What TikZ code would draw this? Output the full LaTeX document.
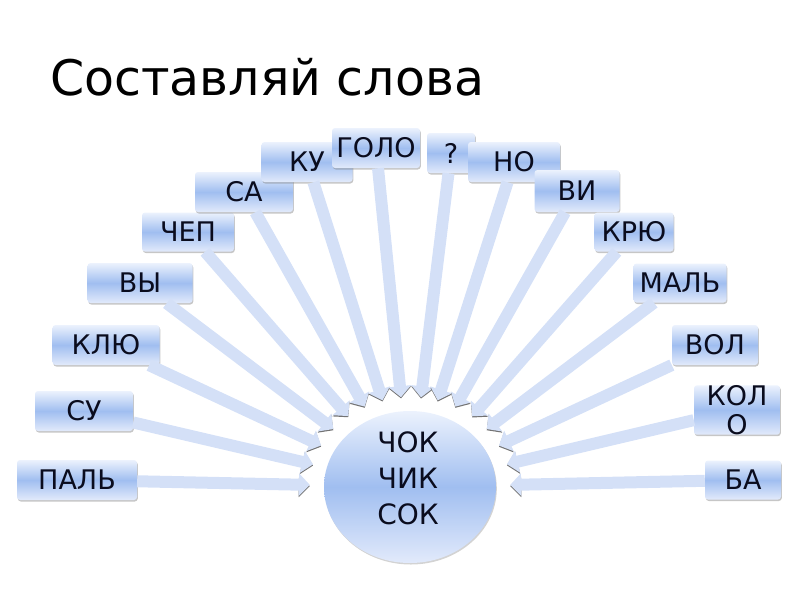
\documentclass[tikz,border=0pt]{standalone}
\usepackage{fontspec}
\setmainfont{DejaVu Sans}
\usetikzlibrary{arrows.meta, shadows, shapes.geometric}

\definecolor{boxtop}{RGB}{236,242,253}
\definecolor{boxmid}{RGB}{160,190,240}
\definecolor{boxbot}{RGB}{226,234,251}
\definecolor{arrowfill}{RGB}{212,224,247}
\definecolor{wordtext}{RGB}{10,12,30}

\tikzset{
  word/.style={rounded corners=3pt, top color=boxtop, bottom color=boxbot,
    middle color=boxmid, minimum height=40pt, inner sep=0pt,
    font=\fontsize{27}{29}\selectfont, text=wordtext,
    drop shadow={shadow xshift=0.8pt, shadow yshift=-1.5pt, opacity=0.45}},
  hub/.style={ellipse, top color=boxtop, bottom color=boxbot, middle color=boxmid,
    minimum width=172pt, minimum height=152pt, inner sep=0pt,
    drop shadow={shadow xshift=0.8pt, shadow yshift=-1.5pt, opacity=0.35}},
  feed/.style={line width=12pt, draw=arrowfill, -{Triangle[width=22pt,length=11pt]},
    shorten >=14pt, preaction={draw=black!55, transform canvas={yshift=-1.2pt}}},
}

\begin{document}
\begin{tikzpicture}[x=1pt, y=-1pt]
  \useasboundingbox (0,0) rectangle (800,600);

  \node[anchor=base west, font=\fontsize{49}{56}\selectfont, inner sep=0pt] (title) at (50,95) {Составляй слова};

  % central ellipse
  \node[hub] (hub) at (410,487) {};
  \node[align=center, font=\fontsize{28}{36}\selectfont, text=wordtext] (hubtext) at (408,478) {ЧОК\\ЧИК\\СОК};

  % word parts
  \node[word, minimum width=120pt] (pal) at (77,480) {ПАЛЬ};
  \node[word, minimum width=98pt] (su) at (84,411) {СУ};
  \node[word, minimum width=107pt] (klyu) at (106,345) {КЛЮ};
  \node[word, minimum width=105pt] (vy) at (140,283) {ВЫ};
  \node[word, minimum width=92pt, minimum height=39pt] (chep) at (188,232) {ЧЕП};
  \node[word, minimum width=98pt] (sa) at (244,192) {СА};
  \node[word, minimum width=91pt] (ku) at (307,162) {КУ};
  \node[word, minimum width=88pt] (golo) at (376,148) {ГОЛО};
  \node[word, minimum width=48pt] (q) at (451,153) {?};
  \node[word, minimum width=92pt] (no) at (514,162) {НО};
  \node[word, minimum width=85pt, minimum height=42pt] (vi) at (577,191) {ВИ};
  \node[word, minimum width=79pt, minimum height=39pt] (kryu) at (634,232) {КРЮ};
  \node[word, minimum width=93pt, minimum height=39pt] (mal) at (680,283) {МАЛЬ};
  \node[word, minimum width=86pt] (vol) at (715,345) {ВОЛ};
  \node[word, minimum width=86pt, minimum height=44pt, align=center] (kolo) at (737,410) {КОЛ\\О};
  \node[word, minimum width=76pt, minimum height=39pt] (ba) at (743,480) {БА};

  % arrows into the ellipse
  \foreach \w in {pal, su, klyu, vy, chep, sa, ku, golo, q, no, vi, kryu, mal, vol, kolo, ba}
    \draw[feed] (\w) -- (hub);
\end{tikzpicture}
\end{document}
